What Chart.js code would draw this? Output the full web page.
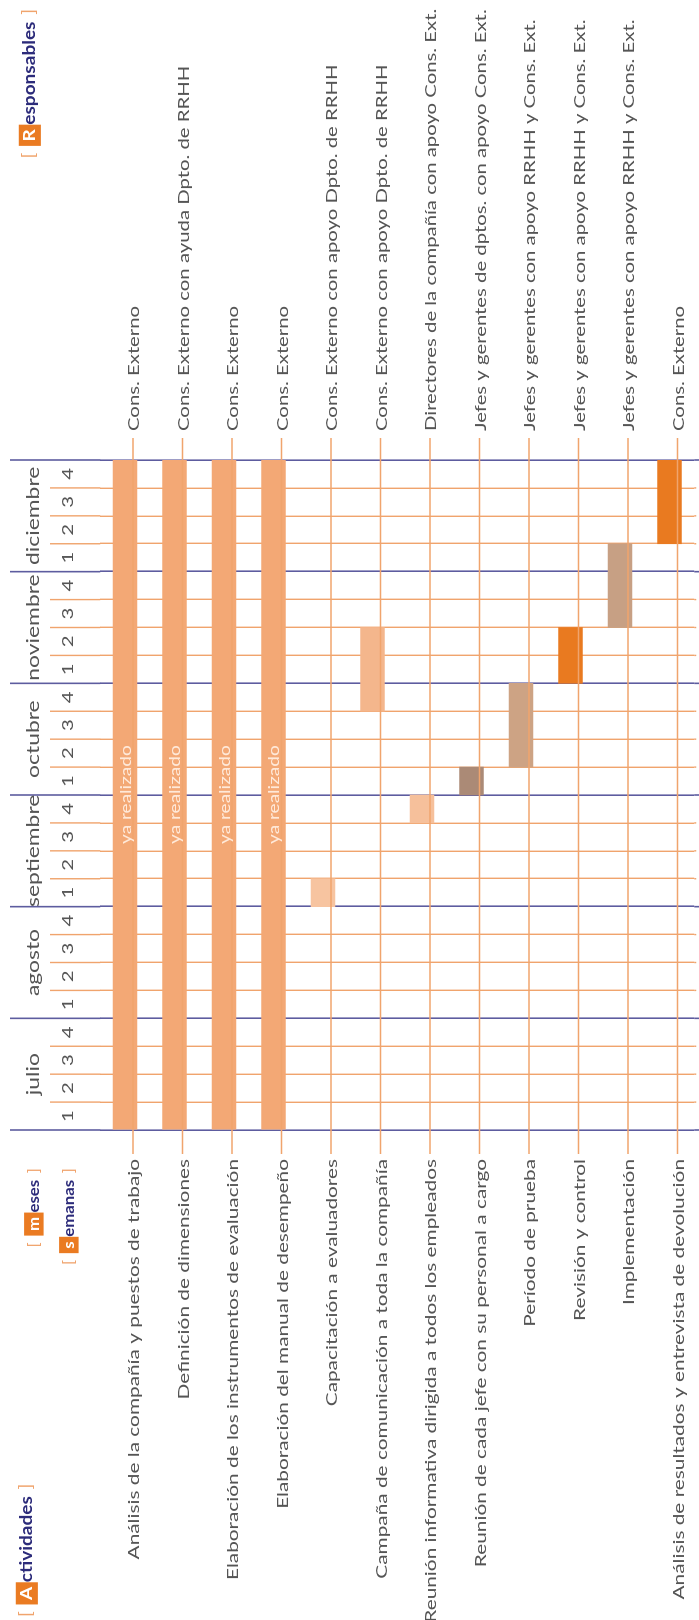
<!DOCTYPE html>
<html lang="es">
<head>
<meta charset="utf-8">
<title>Cronograma de actividades</title>
<script src="https://cdn.jsdelivr.net/npm/chart.js@4.4.1/dist/chart.umd.min.js"></script>
<style>
  html, body { margin: 0; padding: 0; background: #fff; overflow: hidden; }
  #hoja { position: relative; width: 699px; height: 1620px; overflow: hidden; }
  /* the chart is drawn lying down and turned a quarter to the left */
  #gantt { position: absolute; left: 0; top: 0; transform-origin: 0 0;
           transform: translateY(1620px) rotate(-90deg); }
</style>
</head>
<body>
<div id="hoja"><canvas id="gantt" width="1620" height="699"></canvas></div>
<script>
const actividades = [
  'Análisis de la compañía y puestos de trabajo',
  'Definición de dimensiones',
  'Elaboración de los instrumentos de evaluación',
  'Elaboración del manual de desempeño',
  'Capacitación a evaluadores',
  'Campaña de comunicación a toda la compañía',
  'Reunión informativa dirigida a todos los empleados',
  'Reunión de cada jefe con su personal a cargo',
  'Período de prueba',
  'Revisión y control',
  'Implementación',
  'Análisis de resultados y entrevista de devolución'
];
const responsables = [
  'Cons. Externo',
  'Cons. Externo con ayuda Dpto. de RRHH',
  'Cons. Externo',
  'Cons. Externo',
  'Cons. Externo con apoyo Dpto. de RRHH',
  'Cons. Externo con apoyo Dpto. de RRHH',
  'Directores de la compañía con apoyo Cons. Ext.',
  'Jefes y gerentes de dptos. con apoyo Cons. Ext.',
  'Jefes y gerentes con apoyo RRHH y Cons. Ext.',
  'Jefes y gerentes con apoyo RRHH y Cons. Ext.',
  'Jefes y gerentes con apoyo RRHH y Cons. Ext.',
  'Cons. Externo'
];
const meses = ['julio', 'agosto', 'septiembre', 'octubre', 'noviembre', 'diciembre'];
const semanas = ['1', '2', '3', '4'];
// weeks counted from the first week of julio (0) to the end of diciembre (24)
const semanaInicio = [0, 0, 0, 0, 8, 15, 11, 12, 13, 16, 18, 21];
const semanaFin = [24, 24, 24, 24, 9, 18, 12, 13, 16, 18, 21, 24];
const estado = ['ya realizado', 'ya realizado', 'ya realizado', 'ya realizado', '', '', '', '', '', '', '', ''];

const coloresBarra = ['#f3a875', '#f3a875', '#f3a875', '#f3a875', '#f7c4a0', '#f4b68c',
  '#f6c09b', '#ab8a76', '#cda384', '#e97a20', '#c7a084', '#e97a20'];
const AZUL = '#5d5c9f';
const NARANJA = '#f0a46d';
const NARANJA_CAJA = '#ea7b22';
const TEXTO = '#555555';
const TITULO = '#2c2b7a';
const FUENTE = 'Lato, "Open Sans", sans-serif';
const SX = 1.27; // the scanned lettering is drawn wide
const SX_ACT = 1.3;

const totalSemanas = meses.length * semanas.length;

function texto(ctx, str, u, v, align, size, color, sx = SX) {
  ctx.save();
  ctx.font = `${size}px ${FUENTE}`;
  ctx.fillStyle = color;
  ctx.textAlign = align;
  ctx.textBaseline = 'middle';
  ctx.translate(u, v);
  ctx.scale(sx, 1);
  ctx.fillText(str, 0, 0);
  ctx.restore();
}

// "[ Xxxx ]" heading: first letter in an orange box
function titulo(ctx, palabra, u, v, align, size) {
  ctx.save();
  ctx.textBaseline = 'middle';
  ctx.textAlign = 'left';
  const sx = 1.12;
  const gap = 6;
  ctx.font = `${size}px ${FUENTE}`;
  const wB = ctx.measureText('[').width;
  ctx.font = `bold ${size}px ${FUENTE}`;
  const inicial = palabra[0];
  const resto = palabra.slice(1);
  const wI = ctx.measureText(inicial).width + 8;
  const wR = ctx.measureText(resto).width;
  const total = (wB + gap + wI + wR + gap + wB) * sx;
  ctx.translate(align === 'right' ? u - total : u, v);
  ctx.scale(sx, 1);
  let p = 0;
  ctx.font = `${size}px ${FUENTE}`;
  ctx.fillStyle = NARANJA;
  ctx.fillText('[', p, 0);
  p += wB + gap;
  ctx.fillStyle = NARANJA_CAJA;
  ctx.fillRect(p, -size * 0.66, wI, size * 1.3);
  ctx.font = `bold ${size}px ${FUENTE}`;
  ctx.fillStyle = '#fff';
  ctx.fillText(inicial, p + 4, 0);
  p += wI;
  ctx.fillStyle = TITULO;
  ctx.fillText(resto, p, 0);
  p += wR + gap;
  ctx.font = `${size}px ${FUENTE}`;
  ctx.fillStyle = NARANJA;
  ctx.fillText(']', p, 0);
  ctx.restore();
}

const decorado = {
  id: 'decorado',
  afterDraw(chart) {
    const { ctx, chartArea: area, scales: { x, y } } = chart;
    ctx.save();

    // week and month lines carried into the header and past the last row
    for (let w = 0; w <= totalSemanas; w++) {
      const px = x.getPixelForValue(w);
      const esMes = w % semanas.length === 0;
      ctx.strokeStyle = esMes ? AZUL : NARANJA;
      ctx.lineWidth = esMes ? 1.6 : 1.4;
      ctx.beginPath();
      ctx.moveTo(px, esMes ? 10 : 50);
      ctx.lineTo(px, area.top);
      ctx.moveTo(px, area.bottom);
      ctx.lineTo(px, esMes ? chart.height : area.bottom + 2);
      ctx.stroke();
    }

    // month names and week numbers
    meses.forEach((m, i) => {
      texto(ctx, m, x.getPixelForValue(i * 4 + 2), 33, 'center', 18, TEXTO);
      semanas.forEach((s, j) => {
        texto(ctx, s, x.getPixelForValue(i * 4 + j + 0.5), 68, 'center', 16, TEXTO);
      });
    });

    // leader lines, activity names and people in charge
    actividades.forEach((a, i) => {
      const v = y.getPixelForValue(i) + 8;
      ctx.strokeStyle = NARANJA;
      ctx.lineWidth = 1.4;
      ctx.beginPath();
      ctx.moveTo(466, v);
      ctx.lineTo(1182, v);
      ctx.stroke();
      texto(ctx, a, 461, v + 1, 'right', 16, TEXTO, SX_ACT);
      texto(ctx, responsables[i], 1189, v + 1, 'left', 16, TEXTO);
    });

    // "ya realizado" on the finished tasks
    const meta = chart.getDatasetMeta(0);
    meta.data.forEach((bar, i) => {
      if (!estado[i]) return;
      texto(ctx, estado[i], (bar.x + bar.base) / 2, bar.y + 1, 'center', 15, 'rgba(255,236,222,0.95)');
    });

    titulo(ctx, 'Actividades', 3, 27, 'left', 17);
    titulo(ctx, 'Responsables', 1611, 30, 'right', 17);
    titulo(ctx, 'meses', 452, 34, 'right', 15);
    titulo(ctx, 'semanas', 452, 69, 'right', 15);

    ctx.restore();
  }
};

new Chart(document.getElementById('gantt'), {
  type: 'bar',
  data: {
    labels: actividades,
    datasets: [{
      data: semanaInicio.map((s, i) => [s, semanaFin[i]]),
      backgroundColor: coloresBarra,
      borderWidth: 0,
      barThickness: 24
    }]
  },
  options: {
    indexAxis: 'y',
    responsive: false,
    animation: false,
    devicePixelRatio: 1,
    layout: { padding: { left: 490, right: 460, top: 100.25, bottom: 4.75 } },
    plugins: { legend: { display: false }, tooltip: { enabled: false } },
    scales: {
      x: {
        type: 'linear',
        position: 'top',
        min: 0,
        max: totalSemanas,
        z: 1,
        ticks: { stepSize: 1, display: false },
        grid: {
          color: c => (c.tick.value % semanas.length === 0 ? AZUL : NARANJA),
          lineWidth: c => (c.tick.value % semanas.length === 0 ? 1.6 : 1.4),
          drawTicks: false
        },
        border: { display: false },
        afterFit: s => { s.height = 0; }
      },
      y: { display: false }
    }
  },
  plugins: [decorado]
});
</script>
</body>
</html>
